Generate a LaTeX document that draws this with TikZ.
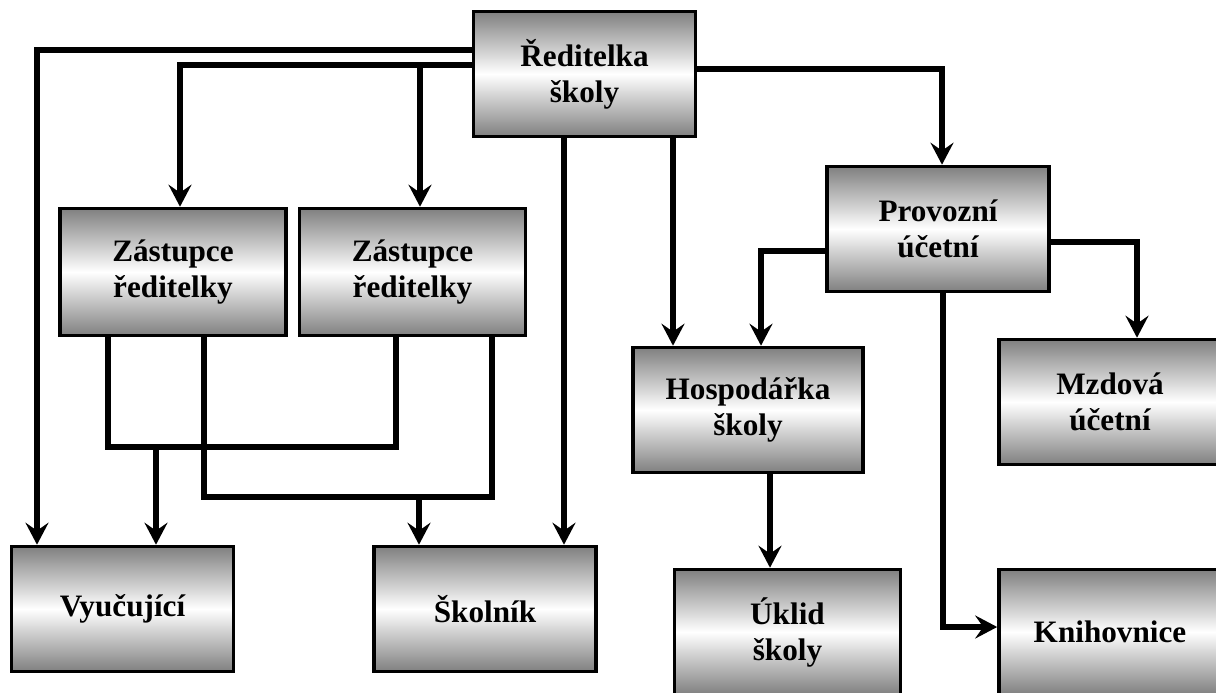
\documentclass[tikz,border=0pt]{standalone}
\usepackage{fontspec}
\setmainfont{Liberation Serif}
\usetikzlibrary{arrows.meta}
\definecolor{boxgray}{RGB}{128,128,128}
\newcommand{\boxfont}{\fontsize{15.6}{18}\selectfont\bfseries}
\begin{document}
\begin{tikzpicture}[x=0.5pt,y=-0.5pt,
  box/.style={draw=black, line width=1.8pt, top color=boxgray, bottom color=boxgray, middle color=white,
    minimum width=111pt, minimum height=62.5pt, inner sep=0pt, align=center, font=\boxfont},
  conn/.style={line width=3pt, draw=black},
  arr/.style={conn, -{Stealth[length=11pt,width=11.5pt,inset=4pt]}}]
\useasboundingbox (0,0) rectangle (1216,692);
\clip (0,0) rectangle (1216,692);
% nodes
\node[box] (R) at (584.5,74) {Ředitelka\\školy};
\node[box, minimum width=113pt, minimum height=63.5pt] (Z1) at (173,272) {Zástupce\\ředitelky};
\node[box, minimum width=113pt, minimum height=63.5pt] (Z2) at (412.5,272) {Zástupce\\ředitelky};
\node[box] (P) at (938,229) {Provozní\\účetní};
\node[box, minimum width=115pt] (H) at (748,410) {Hospodářka\\školy};
\node[box] (M) at (1110,402) {Mzdová\\účetní};
\node[box] (V) at (122.5,609) {Vyučující};
\node[box] (S) at (485,609) {Školník};
\node[box, minimum width=113pt] (U) at (787.5,632) {Úklid\\školy};
\node[box] (K) at (1110,632) {Knihovnice};
% helper coordinates for the merged lines
\coordinate (h1) at (250,447);
\coordinate (j1) at (156,447);
\coordinate (h2) at (300,497);
\coordinate (j2) at (419,497);
% connectors from Ředitelka
\draw[arr] (R.west |- 0,50) -| (V.north -| 37,0);
\draw[arr] (R.west |- 0,65) -| (Z1.north -| 180,0);
\draw[arr] (R.west |- 0,65) -| (Z2.north -| 420,0);
\draw[arr] (R.south -| 564,0) -- (S.north -| 564,0);
\draw[arr] (R.south -| 673,0) -- (H.north -| 673,0);
\draw[arr] (R.east |- 0,69) -| (P.north -| 942,0);
% connectors from Provozní účetní
\draw[arr] (P.west |- 0,251) -| (H.north -| 761,0);
\draw[arr] (P.east |- 0,242) -| (M.north -| 1137,0);
\draw[arr] (P.south -| 943,0) |- (K.west |- 0,627);
% Hospodářka to Úklid
\draw[arr] (H.south -| 770,0) -- (U.north -| 770,0);
% deputies to teachers / caretaker
\draw[conn] (Z1.south -| 108,0) |- (h1) -| (Z2.south -| 396,0);
\draw[arr] (j1) -- (V.north -| j1);
\draw[conn] (Z1.south -| 204,0) |- (h2) -| (Z2.south -| 492,0);
\draw[arr] (j2) -- (S.north -| j2);
\end{tikzpicture}
\end{document}
